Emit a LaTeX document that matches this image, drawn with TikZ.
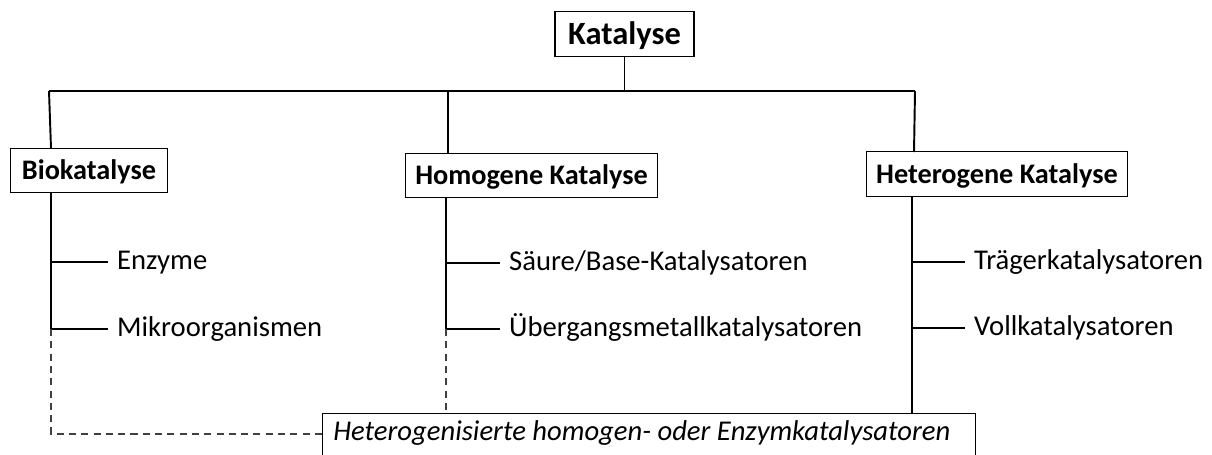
\documentclass[tikz,border=0pt]{standalone}
\usepackage{fontspec}
\setmainfont{Carlito}
\usetikzlibrary{positioning}

\tikzset{
  headbox/.style={draw, line width=0.8pt, font=\bfseries\fontsize{16.1}{19}\selectfont,
    minimum height=0.89cm, inner xsep=5.5pt, text height=12pt, text depth=1.6pt},
  item/.style={anchor=west, font=\fontsize{16.3}{19}\selectfont, inner sep=5pt,
    text height=12pt, text depth=3.3pt},
  tree/.style={line width=1.1pt},
  hint/.style={line width=0.6pt, dash pattern=on 4pt off 3pt, black!75}
}

\begin{document}
\begin{tikzpicture}[x=0.02cm, y=-0.02cm]
	\useasboundingbox (0,0) rectangle (1212,454);
	\clip (0,0) rectangle (1212,454);

	% boxes
	\node[headbox, font=\bfseries\fontsize{18.5}{22}\selectfont, inner xsep=7.5pt,
		text height=13.5pt, text depth=1.5pt] (kat) at (624.5,34) {Katalyse};
	\node[headbox, inner xsep=6.5pt] (bio) at (89,170.5) {Biokatalyse};
	\node[headbox] (hom) at (531.5,175.5) {Homogene Katalyse};
	\node[headbox] (het) at (997,174) {Heterogene Katalyse};
	\node[draw, line width=0.8pt, anchor=north west, font=\itshape\fontsize{16.3}{19}\selectfont,
		inner xsep=6pt, inner ysep=3pt, text width=13.06cm-12pt, align=flush left,
		text height=12pt, text depth=30pt] (sup) at (322,413) {Heterogenisierte homogen- oder Enzymkatalysatoren};

	% items
	\node[item] (enz) at (108,262) {Enzyme};
	\node[item] (mikro) at (108,329) {Mikroorganismen};
	\node[item] (saeure) at (500,263) {Säure/Base-Katalysatoren};
	\node[item] (uebg) at (500,329) {Übergangsmetallkatalysatoren};
	\node[item] (traeg) at (965,262) {Trägerkatalysatoren};
	\node[item] (voll) at (965,328) {Vollkatalysatoren};

	% stems
	\coordinate (bar) at (620,91);
	\coordinate (bioTop) at (49,91);
	\coordinate (homTop) at (448,91);
	\coordinate (hetTop) at (915,91);
	\coordinate (bioStem) at (51,193);
	\coordinate (homStem) at (446,198);
	\coordinate (hetStem) at (912,196);
	\coordinate (dashY) at (0,434);

	\draw[tree] (bioTop) -- (hetTop);
	\draw[tree] (kat.south) -- (kat.south |- bar);
	\draw[tree] (bioTop) -- (51,148);
	\draw[tree] (homTop) -- (homTop |- hom.north);
	\draw[tree] (hetTop) -- (914,152);

	\draw[tree] (bioStem) |- (mikro.west);
	\draw[tree] (bioStem |- enz.west) -- (enz.west);
	\draw[tree] (homStem) |- (uebg.west);
	\draw[tree] (homStem |- saeure.west) -- (saeure.west);
	\draw[tree] (hetStem) -- (hetStem |- sup.north);
	\draw[tree] (hetStem |- traeg.west) -- (traeg.west);
	\draw[tree] (hetStem |- voll.west) -- (voll.west);

	% dashed links
	\draw[hint] (bioStem |- mikro.west) |- (sup.north west |- dashY);
	\draw[hint] (homStem |- uebg.west) -- (homStem |- sup.north);
\end{tikzpicture}
\end{document}
